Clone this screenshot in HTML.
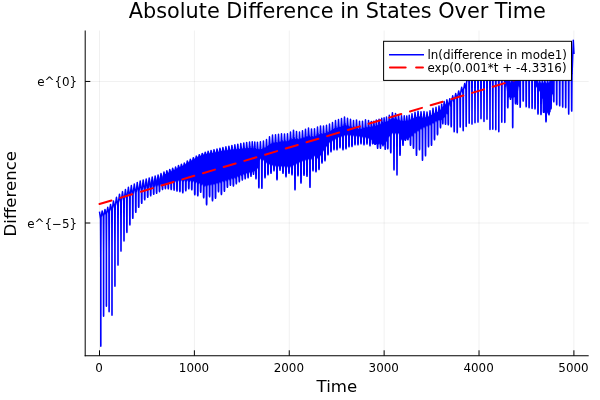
<!DOCTYPE html>
<html><head><meta charset="utf-8"><title>Absolute Difference in States Over Time</title>
<style>html,body{margin:0;padding:0;background:#fff;overflow:hidden}body{width:600px;height:400px}</style></head>
<body>
<svg width="600" height="400" viewBox="0 0 600 400" style="display:block" font-family='"DejaVu Sans", "Liberation Sans", sans-serif'>
<rect width="600" height="400" fill="#fff"/>
<g stroke="#000" stroke-opacity="0.1" stroke-width="0.6"><line x1="99.50" y1="30.5" x2="99.50" y2="355.4"/><line x1="194.38" y1="30.5" x2="194.38" y2="355.4"/><line x1="289.26" y1="30.5" x2="289.26" y2="355.4"/><line x1="384.14" y1="30.5" x2="384.14" y2="355.4"/><line x1="479.02" y1="30.5" x2="479.02" y2="355.4"/><line x1="573.90" y1="30.5" x2="573.90" y2="355.4"/><line x1="85.5" y1="81.45" x2="588.7" y2="81.45"/><line x1="85.5" y1="223.0" x2="588.7" y2="223.0"/></g>
<defs><clipPath id="pa"><rect x="85.5" y="30.5" width="503.20000000000005" height="324.9"/></clipPath></defs>
<g clip-path="url(#pa)"><polygon points="99.5,217.0 100.0,216.7 100.5,216.3 101.0,216.0 101.5,215.7 102.0,215.3 102.5,215.0 103.0,214.7 103.5,214.3 104.0,214.0 104.5,213.7 105.0,213.3 105.5,213.0 106.0,212.7 106.5,212.3 107.0,212.0 107.5,211.7 108.0,211.3 108.5,211.0 109.0,210.7 109.5,210.3 110.0,210.0 110.5,209.5 111.0,209.1 111.5,208.6 112.0,208.1 112.5,207.6 113.0,207.2 113.5,206.7 114.0,206.2 114.5,205.7 115.0,205.2 115.5,204.8 116.0,204.3 116.5,203.8 117.0,203.3 117.5,202.9 118.0,202.4 118.5,201.9 119.0,201.4 119.5,201.0 120.0,200.5 120.5,200.2 121.0,199.8 121.5,199.5 122.0,199.2 122.5,198.9 123.0,198.6 123.5,198.2 124.0,197.9 124.5,197.6 125.0,197.2 125.5,196.9 126.0,196.6 126.5,196.3 127.0,195.9 127.5,195.6 128.0,195.3 128.5,195.0 129.0,194.7 129.5,194.3 130.0,194.0 130.5,193.8 131.0,193.6 131.5,193.3 132.0,193.1 132.5,192.9 133.0,192.7 133.5,192.4 134.0,192.2 134.5,192.0 135.0,191.8 135.5,191.5 136.0,191.3 136.5,191.1 137.0,190.8 137.5,190.6 138.0,190.4 138.5,190.2 139.0,189.9 139.5,189.7 140.0,189.5 140.5,189.4 141.0,189.2 141.5,189.1 142.0,189.0 142.5,188.8 143.0,188.7 143.5,188.6 144.0,188.4 144.5,188.3 145.0,188.2 145.5,188.0 146.0,187.9 146.5,187.8 147.0,187.6 147.5,187.5 148.0,187.4 148.5,187.2 149.0,187.1 149.5,187.0 150.0,186.8 150.5,186.7 151.0,186.6 151.5,186.4 152.0,186.3 152.5,186.2 153.0,186.0 153.5,185.9 154.0,185.8 154.5,185.6 155.0,185.5 155.5,185.4 156.0,185.2 156.5,185.1 157.0,185.0 157.5,184.9 158.0,184.8 158.5,184.6 159.0,184.5 159.5,183.7 160.0,182.8 160.5,182.0 161.0,181.1 161.5,180.3 162.0,179.4 162.5,178.5 163.0,177.7 163.5,176.8 164.0,175.9 164.5,175.0 165.0,174.2 165.5,173.9 166.0,173.7 166.5,173.5 167.0,173.3 167.5,173.1 168.0,172.9 168.5,172.6 169.0,172.4 169.5,172.1 170.0,171.9 170.5,171.7 171.0,171.4 171.5,171.2 172.0,171.0 172.5,170.7 173.0,170.5 173.5,170.3 174.0,170.1 174.5,169.8 175.0,169.6 175.5,169.4 176.0,169.2 176.5,168.9 177.0,168.6 177.5,168.3 178.0,168.1 178.5,167.8 179.0,167.5 179.5,167.3 180.0,167.0 180.5,166.8 181.0,166.6 181.5,166.4 182.0,166.1 182.5,165.9 183.0,165.7 183.5,165.5 184.0,165.3 184.5,165.1 185.0,164.8 185.5,164.3 186.0,163.7 186.5,163.5 187.0,163.2 187.5,162.9 188.0,162.6 188.5,162.3 189.0,162.0 189.5,161.7 190.0,161.4 190.5,161.1 191.0,160.9 191.5,160.6 192.0,160.3 192.5,160.0 193.0,159.7 193.5,159.4 194.0,159.2 194.5,158.9 195.0,158.6 195.5,158.3 196.0,158.1 196.5,157.8 197.0,157.5 197.5,157.2 198.0,157.0 198.5,156.8 199.0,156.5 199.5,156.3 200.0,156.1 200.5,155.9 201.0,155.7 201.5,155.5 202.0,155.3 202.5,155.0 203.0,154.8 203.5,154.6 204.0,154.4 204.5,154.2 205.0,154.1 205.5,154.0 206.0,153.9 206.5,153.9 207.0,153.8 207.5,153.7 208.0,153.7 208.5,153.6 209.0,153.5 209.5,153.5 210.0,153.4 210.5,153.3 211.0,153.2 211.5,153.1 212.0,153.0 212.5,152.9 213.0,152.8 213.5,152.7 214.0,152.6 214.5,152.5 215.0,152.4 215.5,152.3 216.0,152.2 216.5,152.1 217.0,152.0 217.5,151.9 218.0,151.8 218.5,151.7 219.0,151.6 219.5,151.5 220.0,151.4 220.5,151.3 221.0,151.2 221.5,151.1 222.0,151.0 222.5,150.9 223.0,150.8 223.5,150.7 224.0,150.6 224.5,150.5 225.0,150.4 225.5,150.4 226.0,150.4 226.5,150.3 227.0,150.3 227.5,150.2 228.0,150.2 228.5,150.1 229.0,150.0 229.5,150.0 230.0,149.9 230.5,149.8 231.0,149.8 231.5,149.7 232.0,149.6 232.5,149.6 233.0,149.5 233.5,149.4 234.0,149.4 234.5,149.3 235.0,149.3 235.5,149.3 236.0,149.2 236.5,149.2 237.0,149.1 237.5,149.1 238.0,149.1 238.5,149.0 239.0,149.0 239.5,148.9 240.0,148.9 240.5,148.8 241.0,148.8 241.5,148.7 242.0,148.7 242.5,148.6 243.0,148.6 243.5,148.5 244.0,148.5 244.5,148.4 245.0,148.4 245.5,148.3 246.0,148.3 246.5,148.3 247.0,148.3 247.5,148.2 248.0,148.2 248.5,148.2 249.0,148.2 249.5,148.2 250.0,148.2 250.5,148.1 251.0,148.1 251.5,148.1 252.0,148.1 252.5,148.2 253.0,148.3 253.5,148.4 254.0,148.5 254.5,148.6 255.0,148.6 255.5,148.8 256.0,148.9 256.5,149.0 257.0,149.1 257.5,149.2 258.0,149.3 258.5,149.3 259.0,149.2 259.5,149.2 260.0,149.1 260.5,149.1 261.0,149.0 261.5,149.0 262.0,148.9 262.5,148.8 263.0,148.6 263.5,148.5 264.0,148.4 264.5,148.1 265.0,147.8 265.5,147.5 266.0,147.2 266.5,146.9 267.0,146.5 267.5,146.1 268.0,145.7 268.5,145.4 269.0,145.0 269.5,144.6 270.0,144.3 270.5,144.1 271.0,143.8 271.5,143.6 272.0,143.3 272.5,143.1 273.0,143.0 273.5,143.0 274.0,142.9 274.5,142.9 275.0,142.8 275.5,142.7 276.0,142.7 276.5,142.6 277.0,142.6 277.5,142.5 278.0,142.5 278.5,142.4 279.0,142.3 279.5,142.1 280.0,142.0 280.5,141.9 281.0,141.7 281.5,141.6 282.0,141.6 282.5,141.5 283.0,141.5 283.5,141.5 284.0,141.4 284.5,141.4 285.0,141.4 285.5,141.3 286.0,141.3 286.5,141.3 287.0,141.2 287.5,141.2 288.0,141.0 288.5,140.8 289.0,140.5 289.5,140.3 290.0,140.1 290.5,139.9 291.0,139.7 291.5,139.5 292.0,139.2 292.5,139.0 293.0,138.8 293.5,138.6 294.0,138.7 294.5,138.7 295.0,138.8 295.5,138.9 296.0,138.9 296.5,139.0 297.0,139.1 297.5,139.1 298.0,139.2 298.5,139.3 299.0,139.3 299.5,139.4 300.0,139.1 300.5,138.9 301.0,138.6 301.5,138.4 302.0,138.1 302.5,137.9 303.0,137.8 303.5,137.6 304.0,137.5 304.5,137.4 305.0,137.3 305.5,137.1 306.0,137.0 306.5,136.9 307.0,136.8 307.5,136.6 308.0,136.5 308.5,136.4 309.0,136.4 309.5,136.4 310.0,136.5 310.5,136.5 311.0,136.5 311.5,136.5 312.0,136.6 312.5,136.6 313.0,136.6 313.5,136.6 314.0,136.7 314.5,136.7 315.0,136.5 315.5,136.3 316.0,136.0 316.5,135.8 317.0,135.6 317.5,135.4 318.0,135.2 318.5,135.0 319.0,134.8 319.5,134.5 320.0,134.3 320.5,134.1 321.0,134.0 321.5,133.9 322.0,133.8 322.5,133.8 323.0,133.7 323.5,133.6 324.0,133.5 324.5,133.4 325.0,133.3 325.5,133.3 326.0,133.2 326.5,133.1 327.0,132.8 327.5,132.6 328.0,132.3 328.5,132.1 329.0,131.8 329.5,131.6 330.0,131.3 330.5,130.9 331.0,130.6 331.5,130.3 332.0,129.9 332.5,129.6 333.0,129.3 333.5,129.1 334.0,128.8 334.5,128.6 335.0,128.3 335.5,128.1 336.0,128.0 336.5,127.9 337.0,127.8 337.5,127.6 338.0,127.5 338.5,127.4 339.0,127.3 339.5,127.1 340.0,127.0 340.5,126.9 341.0,126.7 341.5,126.6 342.0,126.4 342.5,126.2 343.0,126.0 343.5,125.8 344.0,125.6 344.5,125.4 345.0,125.4 345.5,125.4 346.0,125.4 346.5,125.4 347.0,125.4 347.5,125.4 348.0,125.7 348.5,125.9 349.0,126.2 349.5,126.5 350.0,126.7 350.5,127.0 351.0,127.1 351.5,127.2 352.0,127.3 352.5,127.4 353.0,127.4 353.5,127.5 354.0,127.6 354.5,127.6 355.0,127.7 355.5,127.8 356.0,127.9 356.5,128.0 357.0,128.2 357.5,128.5 358.0,128.8 358.5,129.0 359.0,129.2 359.5,129.3 360.0,129.2 360.5,129.0 361.0,128.9 361.5,128.7 362.0,128.6 362.5,128.4 363.0,128.3 363.5,128.1 364.0,128.0 364.5,127.8 365.0,127.7 365.5,127.5 366.0,127.4 366.5,127.4 367.0,127.4 367.5,127.3 368.0,127.3 368.5,127.2 369.0,127.2 369.5,127.2 370.0,127.1 370.5,127.1 371.0,127.1 371.5,126.9 372.0,126.7 372.5,126.6 373.0,126.5 373.5,126.4 374.0,126.3 374.5,126.2 375.0,126.1 375.5,126.0 376.0,125.9 376.5,125.8 377.0,125.7 377.5,125.5 378.0,125.4 378.5,125.2 379.0,125.1 379.5,124.9 380.0,124.8 380.5,124.6 381.0,124.5 381.5,124.3 382.0,124.2 382.5,124.0 383.0,123.9 383.5,123.7 384.0,123.5 384.5,123.3 385.0,123.1 385.5,122.9 386.0,122.7 386.5,122.4 387.0,122.0 387.5,121.5 388.0,121.1 388.5,120.6 389.0,120.2 389.5,119.8 390.0,119.6 390.5,119.3 391.0,119.1 391.5,118.8 392.0,118.6 392.5,118.4 393.0,118.5 393.5,118.6 394.0,118.6 394.5,118.7 395.0,118.8 395.5,118.9 396.0,119.0 396.5,119.2 397.0,119.4 397.5,119.5 398.0,119.7 398.5,119.9 399.0,120.0 399.5,120.2 400.0,120.4 400.5,120.5 401.0,120.7 401.5,120.8 402.0,120.8 402.5,120.9 403.0,120.9 403.5,120.9 404.0,120.9 404.5,121.0 405.0,121.0 405.5,121.0 406.0,121.0 406.5,121.1 407.0,121.1 407.5,121.0 408.0,120.8 408.5,120.5 409.0,120.3 409.5,120.0 410.0,119.8 410.5,119.5 411.0,119.3 411.5,119.1 412.0,118.8 412.5,118.6 413.0,118.4 413.5,118.2 414.0,117.9 414.5,117.7 415.0,117.5 415.5,117.3 416.0,117.0 416.5,116.9 417.0,116.8 417.5,116.7 418.0,116.6 418.5,116.5 419.0,116.4 419.5,116.4 420.0,116.7 420.5,117.0 421.0,117.3 421.5,117.6 422.0,117.9 422.5,118.1 423.0,117.9 423.5,117.8 424.0,117.7 424.5,117.6 425.0,117.4 425.5,117.3 426.0,117.2 426.5,117.1 427.0,116.9 427.5,116.8 428.0,116.7 428.5,116.5 429.0,116.3 429.5,116.0 430.0,115.8 430.5,115.5 431.0,115.3 431.5,115.0 432.0,114.7 432.5,114.4 433.0,114.1 433.5,113.8 434.0,113.5 434.5,113.2 435.0,113.0 435.5,112.8 436.0,112.6 436.5,112.4 437.0,112.2 437.5,112.0 438.0,111.6 438.5,111.3 439.0,111.0 439.5,110.6 440.0,110.3 440.5,109.8 441.0,109.3 441.5,108.7 442.0,108.2 442.5,107.7 443.0,107.1 443.5,106.6 444.0,106.0 444.5,105.6 445.0,105.1 445.5,104.6 446.0,104.1 446.5,103.7 447.0,103.2 447.5,106.5 448.0,109.9 448.5,108.8 449.0,107.2 449.5,105.6 450.0,104.0 450.5,103.3 451.0,102.7 451.5,102.0 452.0,101.3 452.5,100.7 453.0,100.0 453.5,99.5 454.0,99.0 454.5,98.5 455.0,98.0 455.5,97.5 456.0,97.0 456.5,96.7 457.0,96.3 457.5,96.0 458.0,95.7 458.5,95.3 459.0,95.0 459.5,94.3 460.0,93.7 460.5,93.0 461.0,92.3 461.5,91.7 462.0,91.0 462.5,90.3 463.0,89.7 463.5,89.0 464.0,88.3 464.5,87.7 465.0,87.0 465.5,84.8 466.0,82.7 466.5,80.5 467.0,78.3 467.5,76.2 468.0,74.0 468.5,74.0 469.0,74.0 469.5,74.0 470.0,74.0 470.5,74.0 471.0,74.0 471.5,74.0 472.0,74.0 472.5,74.0 473.0,74.0 473.5,74.0 474.0,74.0 474.5,74.0 475.0,74.0 475.5,74.0 476.0,74.0 476.5,74.0 477.0,74.0 477.5,74.0 478.0,74.0 478.5,74.0 479.0,74.0 479.5,74.0 480.0,74.0 480.5,74.0 481.0,74.0 481.5,74.0 482.0,74.0 482.5,74.0 483.0,74.0 483.5,74.0 484.0,74.0 484.5,74.0 485.0,74.0 485.5,74.0 486.0,74.0 486.5,74.0 487.0,74.0 487.5,74.0 488.0,74.0 488.5,74.0 489.0,74.0 489.5,74.0 490.0,74.0 490.5,74.0 491.0,74.0 491.5,74.0 492.0,74.0 492.5,74.0 493.0,74.0 493.5,74.0 494.0,74.0 494.5,74.0 495.0,74.0 495.5,74.0 496.0,74.0 496.5,74.0 497.0,74.0 497.5,74.0 498.0,74.0 498.5,74.0 499.0,74.0 499.5,74.0 500.0,74.0 500.5,74.0 501.0,74.0 501.5,74.0 502.0,74.0 502.5,74.0 503.0,74.0 503.5,74.0 504.0,74.0 504.5,74.0 505.0,74.0 505.5,78.4 506.0,82.8 506.5,81.5 507.0,75.7 507.5,77.5 508.0,79.2 508.5,80.4 509.0,81.5 509.5,82.7 510.0,83.9 510.5,85.0 511.0,86.2 511.5,84.0 512.0,81.9 512.5,79.7 513.0,77.5 513.5,75.4 514.0,73.2 514.5,71.3 515.0,69.5 515.5,67.6 516.0,65.7 516.5,63.8 517.0,62.0 517.5,60.1 518.0,58.2 518.5,57.8 519.0,64.8 519.5,71.9 520.0,79.0 520.5,76.6 521.0,74.0 521.5,74.0 522.0,74.0 522.5,74.0 523.0,74.0 523.5,74.0 524.0,74.0 524.5,74.0 525.0,74.0 525.5,74.0 526.0,74.0 526.5,74.0 527.0,74.0 527.5,74.0 528.0,74.0 528.5,74.0 529.0,74.0 529.5,74.0 530.0,74.0 530.5,74.0 531.0,74.0 531.5,74.0 532.0,74.0 532.5,74.0 533.0,74.0 533.5,74.0 534.0,74.0 534.5,76.4 535.0,78.4 535.5,73.5 536.0,68.6 536.5,71.2 537.0,74.2 537.5,77.2 538.0,80.2 538.5,83.2 539.0,83.2 539.5,83.2 540.0,83.2 540.5,83.2 541.0,83.2 541.5,83.2 542.0,83.2 542.5,83.2 543.0,83.2 543.5,83.2 544.0,83.2 544.5,83.2 545.0,83.2 545.5,83.2 546.0,83.2 546.5,83.2 547.0,83.2 547.5,83.2 548.0,83.2 548.5,83.2 549.0,83.2 549.5,83.2 550.0,83.2 550.5,83.2 551.0,83.2 551.5,79.7 552.0,76.2 552.5,72.7 553.0,76.7 553.5,81.5 554.0,81.2 554.5,77.6 555.0,74.0 555.5,74.0 556.0,74.0 556.5,74.0 557.0,74.0 557.5,74.0 558.0,74.0 558.5,74.0 559.0,74.0 559.5,74.0 560.0,74.0 560.5,74.0 561.0,74.0 561.5,74.0 562.0,74.0 562.5,74.0 563.0,74.0 563.5,74.0 564.0,74.0 564.5,74.0 565.0,74.0 565.5,74.0 566.0,74.0 566.5,74.0 567.0,74.0 567.5,74.0 568.0,74.0 568.5,74.0 569.0,74.0 569.5,74.0 570.0,74.0 570.5,74.0 571.0,74.0 571.5,74.0 572.0,73.8 572.5,73.4 573.0,73.0 573.0,74.0 572.5,74.0 572.0,74.0 571.5,74.0 571.0,74.0 570.5,74.0 570.0,74.0 569.5,74.0 569.0,74.0 568.5,74.0 568.0,74.0 567.5,74.0 567.0,74.0 566.5,74.0 566.0,74.0 565.5,74.0 565.0,74.0 564.5,74.0 564.0,74.0 563.5,74.0 563.0,74.0 562.5,74.0 562.0,74.0 561.5,74.0 561.0,74.0 560.5,74.0 560.0,74.0 559.5,74.0 559.0,74.0 558.5,74.0 558.0,74.0 557.5,74.0 557.0,74.0 556.5,74.0 556.0,74.0 555.5,74.0 555.0,74.0 554.5,77.6 554.0,81.2 553.5,84.8 553.0,88.4 552.5,92.0 552.0,97.0 551.5,102.0 551.0,107.0 550.5,112.0 550.0,112.0 549.5,112.0 549.0,112.0 548.5,112.0 548.0,112.0 547.5,112.0 547.0,112.0 546.5,112.0 546.0,112.0 545.5,112.0 545.0,112.0 544.5,112.0 544.0,112.0 543.5,112.0 543.0,105.0 542.5,98.0 542.0,96.7 541.5,95.3 541.0,94.0 540.5,92.7 540.0,91.3 539.5,90.0 539.0,89.3 538.5,88.7 538.0,88.0 537.5,87.3 537.0,86.7 536.5,86.0 536.0,83.6 535.5,81.2 535.0,78.8 534.5,76.4 534.0,74.0 533.5,74.0 533.0,74.0 532.5,74.0 532.0,74.0 531.5,74.0 531.0,74.0 530.5,74.0 530.0,74.0 529.5,74.0 529.0,74.0 528.5,74.0 528.0,74.0 527.5,74.0 527.0,74.0 526.5,74.0 526.0,74.0 525.5,74.0 525.0,74.0 524.5,74.0 524.0,74.0 523.5,74.0 523.0,74.0 522.5,74.0 522.0,74.0 521.5,74.0 521.0,74.0 520.5,76.6 520.0,79.2 519.5,81.8 519.0,84.4 518.5,87.0 518.0,91.5 517.5,96.0 517.0,96.0 516.5,96.0 516.0,96.0 515.5,96.0 515.0,96.0 514.5,96.0 514.0,96.0 513.5,96.0 513.0,96.0 512.5,96.0 512.0,96.0 511.5,96.0 511.0,96.0 510.5,96.0 510.0,96.0 509.5,96.0 509.0,96.0 508.5,96.0 508.0,96.0 507.5,96.0 507.0,91.6 506.5,87.2 506.0,82.8 505.5,78.4 505.0,74.0 504.5,74.0 504.0,74.0 503.5,74.0 503.0,74.0 502.5,74.0 502.0,74.0 501.5,74.0 501.0,74.0 500.5,74.0 500.0,74.0 499.5,74.0 499.0,74.0 498.5,74.0 498.0,74.0 497.5,74.0 497.0,74.0 496.5,74.0 496.0,74.0 495.5,74.0 495.0,74.0 494.5,74.0 494.0,74.0 493.5,74.0 493.0,74.0 492.5,74.0 492.0,74.0 491.5,74.0 491.0,74.0 490.5,74.0 490.0,74.0 489.5,74.0 489.0,74.0 488.5,74.0 488.0,74.0 487.5,74.0 487.0,74.0 486.5,74.0 486.0,74.0 485.5,74.0 485.0,74.0 484.5,74.0 484.0,74.0 483.5,74.0 483.0,74.0 482.5,74.0 482.0,74.0 481.5,74.0 481.0,74.0 480.5,74.0 480.0,74.0 479.5,74.0 479.0,74.0 478.5,74.0 478.0,74.0 477.5,74.0 477.0,74.0 476.5,74.0 476.0,74.0 475.5,74.0 475.0,74.0 474.5,74.0 474.0,74.0 473.5,74.0 473.0,74.0 472.5,74.0 472.0,74.0 471.5,74.0 471.0,74.0 470.5,74.0 470.0,74.0 469.5,74.0 469.0,74.0 468.5,74.0 468.0,74.0 467.5,76.2 467.0,78.3 466.5,80.5 466.0,82.7 465.5,84.8 465.0,87.0 464.5,87.7 464.0,88.3 463.5,89.0 463.0,89.7 462.5,90.3 462.0,91.0 461.5,91.7 461.0,92.3 460.5,93.0 460.0,93.7 459.5,94.3 459.0,95.0 458.5,95.3 458.0,95.7 457.5,96.0 457.0,96.3 456.5,96.7 456.0,97.0 455.5,97.5 455.0,98.0 454.5,98.5 454.0,99.0 453.5,99.5 453.0,100.0 452.5,100.7 452.0,101.3 451.5,102.0 451.0,102.7 450.5,103.3 450.0,104.0 449.5,105.6 449.0,107.2 448.5,108.8 448.0,110.4 447.5,112.0 447.0,112.7 446.5,113.3 446.0,114.0 445.5,114.7 445.0,115.3 444.5,116.0 444.0,116.4 443.5,116.8 443.0,117.2 442.5,117.7 442.0,118.1 441.5,118.5 441.0,118.7 440.5,118.8 440.0,119.0 439.5,119.2 439.0,119.3 438.5,119.5 438.0,119.7 437.5,119.9 437.0,120.1 436.5,120.4 436.0,120.6 435.5,120.8 435.0,121.0 434.5,121.4 434.0,121.7 433.5,122.1 433.0,122.4 432.5,122.8 432.0,123.1 431.5,123.5 431.0,123.7 430.5,123.8 430.0,124.0 429.5,124.2 429.0,124.3 428.5,124.5 428.0,124.7 427.5,124.8 427.0,125.0 426.5,125.2 426.0,125.5 425.5,125.8 425.0,126.0 424.5,126.2 424.0,126.5 423.5,126.8 423.0,127.0 422.5,127.2 422.0,127.5 421.5,127.8 421.0,128.0 420.5,128.3 420.0,128.7 419.5,129.0 419.0,129.3 418.5,129.7 418.0,130.0 417.5,130.3 417.0,130.7 416.5,131.0 416.0,131.3 415.5,131.7 415.0,132.0 414.5,132.5 414.0,133.0 413.5,133.5 413.0,134.0 412.5,134.5 412.0,135.0 411.5,135.2 411.0,135.5 410.5,135.8 410.0,136.0 409.5,136.2 409.0,136.5 408.5,136.8 408.0,137.0 407.5,137.2 407.0,137.5 406.5,137.8 406.0,138.0 405.5,138.2 405.0,138.5 404.5,138.8 404.0,139.0 403.5,139.2 403.0,139.5 402.5,139.8 402.0,140.0 401.5,138.8 401.0,137.5 400.5,136.2 400.0,135.0 399.5,133.8 399.0,132.5 398.5,132.5 398.0,132.5 397.5,132.5 397.0,132.5 396.5,132.5 396.0,132.5 395.5,132.5 395.0,132.5 394.5,132.5 394.0,132.5 393.5,132.5 393.0,132.5 392.5,132.5 392.0,132.5 391.5,133.1 391.0,133.7 390.5,134.2 390.0,134.8 389.5,135.4 389.0,136.0 388.5,136.9 388.0,137.8 387.5,138.6 387.0,139.5 386.5,140.4 386.0,141.2 385.5,142.1 385.0,143.0 384.5,143.0 384.0,143.0 383.5,143.0 383.0,143.0 382.5,143.0 382.0,143.0 381.5,143.0 381.0,143.0 380.5,143.0 380.0,143.0 379.5,143.0 379.0,143.0 378.5,143.0 378.0,143.0 377.5,143.0 377.0,143.0 376.5,143.0 376.0,143.0 375.5,143.0 375.0,143.0 374.5,143.0 374.0,143.0 373.5,142.2 373.0,141.3 372.5,140.5 372.0,139.7 371.5,138.8 371.0,138.0 370.5,137.9 370.0,137.8 369.5,137.6 369.0,137.5 368.5,137.4 368.0,137.2 367.5,137.1 367.0,137.0 366.5,136.9 366.0,136.8 365.5,136.6 365.0,136.5 364.5,136.4 364.0,136.3 363.5,136.2 363.0,136.2 362.5,136.1 362.0,136.0 361.5,135.9 361.0,135.8 360.5,135.8 360.0,135.7 359.5,135.6 359.0,135.5 358.5,135.4 358.0,135.3 357.5,135.2 357.0,135.2 356.5,135.1 356.0,135.0 355.5,134.9 355.0,134.9 354.5,134.8 354.0,134.8 353.5,134.7 353.0,134.7 352.5,134.6 352.0,134.6 351.5,134.5 351.0,134.4 350.5,134.4 350.0,134.3 349.5,134.3 349.0,134.2 348.5,134.2 348.0,134.1 347.5,134.1 347.0,134.0 346.5,134.1 346.0,134.3 345.5,134.4 345.0,134.6 344.5,134.7 344.0,134.8 343.5,135.0 343.0,135.1 342.5,135.2 342.0,135.4 341.5,135.5 341.0,135.7 340.5,135.8 340.0,135.9 339.5,136.1 339.0,136.2 338.5,136.4 338.0,136.5 337.5,136.8 337.0,137.1 336.5,137.4 336.0,137.7 335.5,138.0 335.0,138.3 334.5,138.6 334.0,138.9 333.5,139.2 333.0,139.6 332.5,139.9 332.0,140.2 331.5,140.5 331.0,140.8 330.5,141.1 330.0,141.4 329.5,141.7 329.0,142.0 328.5,142.7 328.0,143.4 327.5,144.1 327.0,144.8 326.5,145.5 326.0,146.3 325.5,147.0 325.0,147.7 324.5,148.4 324.0,149.1 323.5,149.8 323.0,150.6 322.5,151.4 322.0,152.2 321.5,152.9 321.0,153.7 320.5,154.5 320.0,154.9 319.5,155.4 319.0,155.8 318.5,156.3 318.0,156.8 317.5,157.2 317.0,156.8 316.5,156.5 316.0,156.1 315.5,155.7 315.0,155.4 314.5,155.0 314.0,155.5 313.5,156.0 313.0,156.5 312.5,157.0 312.0,157.5 311.5,158.0 311.0,158.0 310.5,158.1 310.0,158.1 309.5,158.1 309.0,158.2 308.5,158.2 308.0,158.4 307.5,158.5 307.0,158.7 306.5,158.9 306.0,159.0 305.5,159.2 305.0,159.4 304.5,159.5 304.0,159.7 303.5,159.8 303.0,160.0 302.5,160.2 302.0,160.3 301.5,160.5 301.0,160.7 300.5,160.8 300.0,161.0 299.5,161.2 299.0,161.5 298.5,161.8 298.0,162.0 297.5,162.2 297.0,162.5 296.5,162.8 296.0,163.0 295.5,163.2 295.0,163.5 294.5,163.8 294.0,164.0 293.5,164.2 293.0,164.5 292.5,164.8 292.0,165.0 291.5,165.2 291.0,165.5 290.5,165.8 290.0,166.0 289.5,166.0 289.0,165.9 288.5,165.9 288.0,165.9 287.5,165.8 287.0,165.8 286.5,165.8 286.0,165.7 285.5,165.7 285.0,165.7 284.5,165.6 284.0,165.6 283.5,165.6 283.0,165.5 282.5,165.5 282.0,165.5 281.5,165.4 281.0,165.4 280.5,165.4 280.0,165.3 279.5,165.3 279.0,165.3 278.5,165.2 278.0,165.2 277.5,165.2 277.0,165.1 276.5,165.1 276.0,165.1 275.5,165.0 275.0,165.0 274.5,164.9 274.0,164.7 273.5,164.6 273.0,164.4 272.5,164.3 272.0,164.1 271.5,164.0 271.0,163.9 270.5,163.7 270.0,163.6 269.5,163.4 269.0,163.3 268.5,163.1 268.0,163.0 267.5,162.6 267.0,162.2 266.5,161.8 266.0,161.3 265.5,160.9 265.0,160.5 264.5,160.1 264.0,159.7 263.5,159.2 263.0,158.8 262.5,158.4 262.0,158.0 261.5,158.0 261.0,158.0 260.5,158.0 260.0,158.0 259.5,159.8 259.0,161.7 258.5,163.5 258.0,165.3 257.5,167.2 257.0,169.0 256.5,169.2 256.0,169.3 255.5,169.5 255.0,169.7 254.5,169.8 254.0,170.0 253.5,170.2 253.0,170.3 252.5,170.5 252.0,170.7 251.5,170.8 251.0,171.0 250.5,171.2 250.0,171.3 249.5,171.5 249.0,171.7 248.5,171.8 248.0,172.0 247.5,172.2 247.0,172.3 246.5,172.5 246.0,172.7 245.5,172.8 245.0,173.0 244.5,173.2 244.0,173.4 243.5,173.6 243.0,173.8 242.5,174.0 242.0,174.2 241.5,174.4 241.0,174.6 240.5,174.8 240.0,175.0 239.5,175.2 239.0,175.4 238.5,175.6 238.0,175.8 237.5,176.0 237.0,176.2 236.5,176.4 236.0,176.6 235.5,176.8 235.0,177.0 234.5,177.2 234.0,177.3 233.5,177.4 233.0,177.6 232.5,177.8 232.0,177.9 231.5,178.1 231.0,178.2 230.5,178.3 230.0,178.5 229.5,178.7 229.0,178.8 228.5,178.9 228.0,179.1 227.5,179.2 227.0,179.4 226.5,179.6 226.0,179.7 225.5,179.8 225.0,180.0 224.5,180.2 224.0,180.3 223.5,180.4 223.0,180.6 222.5,180.8 222.0,180.9 221.5,181.1 221.0,181.2 220.5,181.3 220.0,181.5 219.5,181.7 219.0,181.8 218.5,181.9 218.0,182.1 217.5,182.2 217.0,182.4 216.5,182.6 216.0,182.7 215.5,182.8 215.0,183.0 214.5,183.1 214.0,183.2 213.5,183.3 213.0,183.4 212.5,183.5 212.0,183.6 211.5,183.7 211.0,183.8 210.5,183.9 210.0,184.0 209.5,184.1 209.0,184.2 208.5,184.3 208.0,184.4 207.5,184.5 207.0,184.6 206.5,184.7 206.0,184.8 205.5,184.9 205.0,185.0 204.5,184.8 204.0,184.6 203.5,184.4 203.0,184.2 202.5,184.0 202.0,183.8 201.5,183.6 201.0,183.4 200.5,183.2 200.0,183.0 199.5,182.8 199.0,182.6 198.5,182.4 198.0,182.2 197.5,182.0 197.0,181.8 196.5,181.6 196.0,181.4 195.5,181.2 195.0,181.0 194.5,180.9 194.0,180.8 193.5,180.7 193.0,180.6 192.5,180.5 192.0,180.4 191.5,180.3 191.0,180.2 190.5,180.1 190.0,180.0 189.5,180.0 189.0,179.9 188.5,179.9 188.0,179.9 187.5,179.9 187.0,179.8 186.5,179.8 186.0,179.8 185.5,179.8 185.0,179.8 184.5,179.7 184.0,179.7 183.5,179.7 183.0,179.7 182.5,179.6 182.0,179.6 181.5,179.6 181.0,179.6 180.5,179.5 180.0,179.5 179.5,179.6 179.0,179.7 178.5,179.8 178.0,180.0 177.5,180.1 177.0,180.2 176.5,180.3 176.0,180.4 175.5,180.6 175.0,180.7 174.5,180.8 174.0,180.9 173.5,181.0 173.0,181.1 172.5,181.2 172.0,181.4 171.5,181.5 171.0,181.6 170.5,181.7 170.0,181.8 169.5,181.9 169.0,182.1 168.5,182.2 168.0,182.3 167.5,182.4 167.0,182.5 166.5,182.7 166.0,182.8 165.5,182.9 165.0,183.0 164.5,183.1 164.0,183.2 163.5,183.4 163.0,183.5 162.5,183.6 162.0,183.8 161.5,183.9 161.0,184.0 160.5,184.1 160.0,184.2 159.5,184.4 159.0,184.5 158.5,184.6 158.0,184.8 157.5,184.9 157.0,185.0 156.5,185.1 156.0,185.2 155.5,185.4 155.0,185.5 154.5,185.6 154.0,185.8 153.5,185.9 153.0,186.0 152.5,186.2 152.0,186.3 151.5,186.4 151.0,186.6 150.5,186.7 150.0,186.8 149.5,187.0 149.0,187.1 148.5,187.2 148.0,187.4 147.5,187.5 147.0,187.6 146.5,187.8 146.0,187.9 145.5,188.0 145.0,188.2 144.5,188.3 144.0,188.4 143.5,188.6 143.0,188.7 142.5,188.8 142.0,189.0 141.5,189.1 141.0,189.2 140.5,189.4 140.0,189.5 139.5,189.7 139.0,189.9 138.5,190.2 138.0,190.4 137.5,190.6 137.0,190.8 136.5,191.1 136.0,191.3 135.5,191.5 135.0,191.8 134.5,192.0 134.0,192.2 133.5,192.4 133.0,192.7 132.5,192.9 132.0,193.1 131.5,193.3 131.0,193.6 130.5,193.8 130.0,194.0 129.5,194.3 129.0,194.7 128.5,195.0 128.0,195.3 127.5,195.6 127.0,195.9 126.5,196.3 126.0,196.6 125.5,196.9 125.0,197.2 124.5,197.6 124.0,197.9 123.5,198.2 123.0,198.6 122.5,198.9 122.0,199.2 121.5,199.5 121.0,199.8 120.5,200.2 120.0,200.5 119.5,201.0 119.0,201.4 118.5,201.9 118.0,202.4 117.5,202.9 117.0,203.3 116.5,203.8 116.0,204.3 115.5,204.8 115.0,205.2 114.5,205.7 114.0,206.2 113.5,206.7 113.0,207.2 112.5,207.6 112.0,208.1 111.5,208.6 111.0,209.1 110.5,209.5 110.0,210.0 109.5,210.3 109.0,210.7 108.5,211.0 108.0,211.3 107.5,211.7 107.0,212.0 106.5,212.3 106.0,212.7 105.5,213.0 105.0,213.3 104.5,213.7 104.0,214.0 103.5,214.3 103.0,214.7 102.5,215.0 102.0,215.3 101.5,215.7 101.0,216.0 100.5,216.3 100.0,216.7 99.5,217.0" fill="#0000ff" stroke="none"/><path d="M99.50,211.70 99.76,213.52 100.07,215.72 100.33,217.54 100.54,219.00 100.61,231.00 100.73,257.00 100.74,345.10 100.80,346.30 100.87,345.10 100.87,255.20 101.01,229.20 101.08,217.20 101.30,215.94 101.58,214.37 101.92,212.47 102.20,210.90 102.48,212.47 102.82,214.37 103.10,215.94 103.32,217.20 103.39,229.20 103.53,255.20 103.53,315.10 103.60,316.30 103.67,315.10 103.67,253.60 103.81,227.60 103.88,215.60 104.10,214.36 104.38,212.81 104.72,210.95 105.00,209.40 105.28,210.88 105.62,212.66 105.90,214.15 106.12,215.33 106.19,227.33 106.33,253.33 106.33,305.10 106.40,306.30 106.46,305.10 106.47,251.51 106.60,225.51 106.67,213.51 106.89,212.27 107.16,210.72 107.48,208.86 107.75,207.31 108.02,208.86 108.34,210.72 108.61,212.26 108.83,213.50 108.90,225.50 109.03,251.50 109.04,310.60 109.10,311.80 109.17,310.60 109.18,249.48 109.31,223.48 109.39,211.48 109.62,210.06 109.91,208.30 110.26,206.18 110.55,204.41 110.84,206.18 111.19,208.30 111.48,210.06 111.71,211.48 111.79,223.48 111.92,249.48 111.93,314.10 112.00,315.30 112.07,314.10 112.08,246.70 112.22,220.70 112.30,208.70 112.53,207.17 112.83,205.25 113.18,202.96 113.47,201.04 113.77,202.96 114.12,205.25 114.42,207.17 114.66,208.70 114.73,220.70 114.87,246.70 114.88,285.10 114.95,286.30 115.02,285.10 115.03,243.85 115.17,217.85 115.25,205.85 115.50,204.14 115.80,202.01 116.17,199.45 116.47,197.32 116.78,199.45 117.15,202.01 117.45,204.14 117.69,205.85 117.78,217.85 117.92,243.85 117.93,263.90 118.00,265.10 118.07,263.90 118.08,240.97 118.22,214.97 118.30,202.97 118.54,201.22 118.84,199.04 119.20,196.41 119.50,194.22 119.80,196.41 120.16,199.04 120.46,201.22 120.70,202.97 120.78,214.97 120.92,240.97 120.93,249.90 121.00,251.10 121.07,249.90 121.08,238.88 121.22,212.88 121.30,200.88 121.54,199.02 121.84,196.71 122.20,193.94 122.50,191.62 122.80,193.94 123.16,196.71 123.46,199.02 123.70,200.88 123.78,212.88 123.92,238.88 123.93,239.80 124.00,241.00 124.07,239.80 124.08,236.96 124.21,210.96 124.29,198.96 124.52,197.08 124.81,194.72 125.16,191.90 125.45,189.55 125.74,191.90 126.09,194.72 126.38,197.08 126.61,198.96 126.69,210.96 126.79,231.30 126.90,232.50 127.00,231.30 127.12,209.04 127.20,197.04 127.44,195.10 127.74,192.67 128.10,189.76 128.40,187.33 128.70,189.76 129.06,192.67 129.36,195.10 129.60,197.04 129.68,209.04 129.76,223.80 129.90,225.00 130.03,223.80 130.11,207.39 130.19,195.39 130.42,193.42 130.71,190.96 131.06,188.01 131.35,185.55 131.64,188.01 131.99,190.96 132.28,193.42 132.51,195.39 132.59,207.39 132.64,217.10 132.80,218.30 132.96,217.10 133.02,206.06 133.10,194.06 133.34,192.05 133.64,189.53 134.00,186.51 134.30,183.99 134.60,186.51 134.96,189.53 135.26,192.05 135.50,194.06 135.58,206.06 135.61,211.10 135.80,212.30 135.98,211.10 136.01,204.74 136.09,192.74 136.32,190.68 136.61,188.11 136.96,185.02 137.25,182.44 137.54,185.02 137.89,188.11 138.18,190.68 138.41,192.74 138.49,204.74 138.49,206.10 138.70,207.30 138.91,206.10 138.92,203.45 139.00,191.45 139.24,189.36 139.54,186.73 139.90,183.60 140.20,180.99 140.50,183.59 140.86,186.72 141.16,189.36 141.40,191.45 141.48,202.10 141.70,203.30 141.92,202.10 142.00,190.65 142.27,188.52 142.53,185.59 142.88,182.59 143.20,179.90 143.52,182.39 143.87,185.40 144.13,188.52 144.40,190.65 144.48,198.60 144.70,199.80 144.92,198.60 145.00,189.85 145.30,187.72 145.53,184.51 145.86,181.69 146.20,178.97 146.54,181.31 146.87,184.14 147.10,187.72 147.40,189.85 147.48,196.10 147.70,197.30 147.92,196.10 148.00,189.05 148.33,186.91 148.52,183.35 148.84,180.70 149.20,177.95 149.56,180.14 149.88,182.80 150.07,186.91 150.40,189.05 150.48,194.60 150.70,195.80 150.92,194.60 151.00,188.25 151.36,186.13 151.51,182.34 151.83,179.89 152.20,177.06 152.57,179.16 152.89,181.61 153.04,186.13 153.40,188.25 153.48,193.10 153.70,194.30 153.91,193.10 153.99,187.46 154.36,185.36 154.48,181.36 154.77,179.11 155.15,176.11 155.53,178.20 155.82,180.45 155.94,185.36 156.31,187.46 156.39,192.10 156.60,193.30 156.81,192.10 156.89,186.74 157.29,184.64 157.37,180.07 157.66,178.01 158.05,174.98 158.44,176.93 158.73,178.99 158.81,184.64 159.21,186.74 159.29,190.50 159.50,191.70 159.72,190.50 159.80,186.00 160.24,183.92 160.29,178.50 160.57,176.65 161.00,173.60 161.43,175.39 161.71,177.24 161.76,183.92 162.20,186.00 162.28,188.40 162.50,189.60 162.71,188.40 162.79,185.26 163.24,183.24 163.26,176.65 163.52,175.05 163.95,172.02 164.38,173.61 164.64,175.21 164.66,183.24 165.11,185.26 165.19,187.50 165.40,188.70 165.61,187.50 165.69,184.57 166.15,182.57 166.15,175.17 166.42,173.67 166.85,170.73 167.29,172.17 167.55,173.67 167.55,182.57 168.01,184.57 168.09,187.60 168.30,188.80 168.51,187.60 168.59,183.89 169.05,181.89 169.05,173.82 169.31,172.32 169.75,169.48 170.19,170.82 170.45,172.32 170.45,181.89 170.91,183.89 170.99,188.30 171.20,189.50 171.41,188.30 171.49,183.22 171.95,181.22 171.95,172.47 172.21,170.97 172.65,168.22 173.08,169.47 173.35,170.97 173.35,181.22 173.81,183.22 173.89,189.00 174.10,190.20 174.31,189.00 174.39,182.54 174.85,180.54 174.85,171.16 175.12,169.66 175.55,167.01 175.99,168.16 176.25,169.66 176.25,180.54 176.71,182.54 176.79,189.80 177.00,191.00 177.21,189.80 177.29,181.86 177.75,179.86 177.75,169.60 178.01,168.10 178.45,165.55 178.88,166.60 179.15,168.10 179.15,179.86 179.61,181.86 179.69,190.50 179.90,191.70 180.11,190.50 180.19,181.57 180.65,179.57 180.65,168.23 180.92,166.73 181.35,164.27 181.79,165.23 182.05,166.73 182.05,179.57 182.51,181.57 182.59,191.60 182.80,192.80 183.02,191.60 183.10,181.72 183.58,179.72 183.58,166.98 183.85,165.48 184.30,163.10 184.75,163.98 185.02,165.48 185.02,179.72 185.50,181.72 185.58,189.60 185.80,190.80 186.02,189.60 186.10,181.87 186.58,179.87 186.58,164.79 186.85,163.29 187.30,160.98 187.75,161.79 188.02,163.29 188.02,179.87 188.50,181.87 188.58,187.60 188.80,188.80 189.02,187.60 189.10,182.06 189.58,180.06 189.58,163.06 189.85,161.56 190.30,159.33 190.75,160.06 191.02,161.56 191.02,180.06 191.50,182.06 191.58,188.60 191.80,189.80 192.02,188.60 192.10,182.66 192.58,180.66 192.58,161.35 192.85,159.85 193.30,157.71 193.75,158.35 194.02,159.85 194.02,180.66 194.50,182.66 194.58,193.60 194.80,194.80 195.02,193.60 195.10,183.52 195.58,181.52 195.58,159.69 195.85,158.19 196.30,156.11 196.75,156.69 197.02,158.19 197.02,181.52 197.50,183.52 197.58,194.60 197.80,195.80 198.01,194.60 198.09,184.70 198.55,182.70 198.55,158.24 198.81,156.74 199.25,154.68 199.69,155.24 199.95,156.74 199.95,182.70 200.41,184.70 200.49,191.10 200.70,192.30 200.92,191.10 201.00,185.88 201.48,183.88 201.48,156.98 201.75,155.48 202.20,153.45 202.65,153.98 202.92,155.48 202.92,183.88 203.40,185.88 203.48,196.60 203.70,197.80 203.91,196.60 203.99,186.97 204.45,184.97 204.45,155.85 204.71,154.35 205.15,152.32 205.58,152.85 205.85,154.35 205.85,184.97 206.31,186.97 206.39,198.97 206.41,203.60 206.60,204.80 206.79,203.60 206.82,198.38 206.90,186.38 207.38,184.38 207.38,155.45 207.65,153.95 208.10,151.33 208.55,152.45 208.82,153.95 208.82,184.38 209.30,186.38 209.38,195.60 209.60,196.80 209.81,195.60 209.89,185.79 210.35,183.79 210.35,154.99 210.62,153.49 211.05,150.44 211.49,151.99 211.75,153.49 211.75,183.79 212.21,185.79 212.29,197.79 212.30,199.60 212.50,200.80 212.71,199.60 212.72,197.20 212.80,185.20 213.28,183.20 213.28,154.39 213.55,152.89 214.00,149.70 214.45,151.39 214.72,152.89 214.72,183.20 215.20,185.20 215.28,197.10 215.50,198.30 215.72,197.10 215.72,196.40 215.80,184.40 216.28,182.40 216.28,153.78 216.55,152.28 217.00,148.95 217.45,150.78 217.72,152.28 217.72,182.40 218.20,184.40 218.28,190.60 218.50,191.80 218.71,190.60 218.79,183.52 219.25,181.52 219.25,153.18 219.51,151.68 219.95,148.21 220.38,150.18 220.65,151.68 220.65,181.52 221.11,183.52 221.19,193.30 221.40,194.50 221.62,193.30 221.70,182.63 222.18,180.63 222.18,152.61 222.45,151.11 222.90,147.50 223.35,149.61 223.62,151.11 223.62,180.63 224.10,182.63 224.18,190.10 224.40,191.30 224.62,190.10 224.70,181.73 225.18,179.73 225.18,152.16 225.45,150.66 225.90,146.85 226.35,149.16 226.62,150.66 226.62,179.73 227.10,181.73 227.18,186.10 227.40,187.30 227.62,186.10 227.70,180.83 228.18,178.83 228.18,151.84 228.45,150.34 228.90,146.17 229.35,148.84 229.62,150.34 229.62,178.83 230.10,180.83 230.18,184.10 230.40,185.30 230.62,184.10 230.70,179.93 231.18,177.93 231.18,151.45 231.45,149.95 231.90,145.42 232.35,148.45 232.62,149.95 232.62,177.93 233.10,179.93 233.18,184.90 233.40,186.10 233.61,184.90 233.69,179.04 234.15,177.04 234.15,151.11 234.42,149.61 234.85,144.73 235.29,148.11 235.55,149.61 235.55,177.04 236.01,179.04 236.09,182.60 236.30,183.80 236.52,182.60 236.60,177.88 237.08,175.88 237.08,150.88 237.35,149.38 237.80,144.14 238.25,147.88 238.52,149.38 238.52,175.88 239.00,177.88 239.08,180.60 239.30,181.80 239.52,180.60 239.60,176.68 240.08,174.68 240.08,150.62 240.35,149.12 240.80,143.54 241.25,147.62 241.52,149.12 241.52,174.68 242.00,176.68 242.08,178.90 242.30,180.10 242.51,178.90 242.59,175.50 243.05,173.50 243.05,150.32 243.31,148.82 243.75,142.95 244.19,147.32 244.45,148.82 244.45,173.50 244.91,175.50 244.99,177.60 245.20,178.80 245.41,177.60 245.49,174.45 245.95,172.45 245.95,150.08 246.21,148.58 246.65,142.41 247.08,147.08 247.35,148.58 247.35,172.45 247.81,174.45 247.89,176.60 248.10,177.80 248.31,176.60 248.39,173.48 248.85,171.48 248.85,149.98 249.12,148.48 249.55,142.03 249.99,146.98 250.25,148.48 250.25,171.48 250.71,173.48 250.79,175.10 251.00,176.30 251.18,175.10 251.25,172.58 251.65,170.58 251.65,149.95 251.88,148.45 252.25,141.72 252.62,146.95 252.85,148.45 252.85,170.58 253.25,172.58 253.32,173.10 253.50,174.30 253.68,173.10 253.75,171.75 254.15,169.75 254.15,150.40 254.38,148.90 254.75,141.93 255.12,147.40 255.35,148.90 255.35,169.75 255.75,171.75 255.82,177.60 256.00,178.80 256.21,177.60 256.29,169.35 256.75,167.35 256.75,151.01 257.01,149.51 257.45,142.16 257.88,148.01 258.15,149.51 258.15,167.35 258.61,169.35 258.69,181.35 258.71,186.60 258.90,187.80 259.04,186.60 259.12,172.00 259.20,160.00 259.68,158.00 259.68,151.13 259.95,149.63 260.40,141.86 260.85,148.13 261.12,149.63 261.12,158.00 261.60,160.00 261.68,172.00 261.76,187.10 261.90,188.30 262.05,187.10 262.13,173.21 262.21,161.21 262.71,159.21 262.71,150.45 262.98,148.95 263.45,140.95 263.92,147.45 264.19,148.95 264.19,159.21 264.69,161.21 264.77,173.21 264.79,176.60 265.00,177.80 265.22,176.60 265.22,175.75 265.30,163.75 265.78,161.75 265.78,149.01 266.05,147.51 266.50,139.51 266.95,146.01 267.22,147.51 267.22,161.75 267.70,163.75 267.78,173.60 268.00,174.80 268.22,173.60 268.30,165.43 268.78,163.43 268.78,146.34 269.05,144.84 269.50,136.84 269.95,143.34 270.22,144.84 270.22,163.43 270.70,165.43 270.78,172.10 271.00,173.30 271.22,172.10 271.30,166.29 271.78,164.29 271.78,144.55 272.05,143.05 272.50,135.05 272.95,141.55 273.22,143.05 273.22,164.29 273.70,166.29 273.78,169.60 274.00,170.80 274.22,169.60 274.30,167.03 274.78,165.03 274.78,144.17 275.05,142.67 275.50,134.67 275.95,141.17 276.22,142.67 276.22,165.03 276.70,167.03 276.78,178.60 277.00,179.80 277.22,178.60 277.30,167.23 277.78,165.23 277.78,143.87 278.05,142.37 278.50,134.37 278.95,140.87 279.22,142.37 279.22,165.23 279.70,167.23 279.78,169.10 280.00,170.30 280.22,169.10 280.30,167.43 280.78,165.43 280.78,143.19 281.05,141.69 281.50,133.69 281.95,140.19 282.22,141.69 282.22,165.43 282.70,167.43 282.78,172.10 283.00,173.30 283.22,172.10 283.30,167.63 283.78,165.63 283.78,143.49 284.05,141.99 284.50,133.99 284.95,140.49 285.22,141.99 285.22,165.63 285.70,167.63 285.78,175.60 286.00,176.80 286.22,175.60 286.30,167.83 286.78,165.83 286.78,143.30 287.05,141.80 287.50,133.80 287.95,140.30 288.22,141.80 288.22,165.83 288.70,167.83 288.78,172.10 289.00,173.30 289.22,172.10 289.30,167.75 289.78,165.75 289.78,141.47 290.05,139.97 290.50,131.97 290.95,138.47 291.22,139.97 291.22,165.75 291.70,167.75 291.78,173.60 292.00,174.80 292.22,173.60 292.30,166.25 292.78,164.25 292.78,139.65 293.05,138.15 293.50,130.15 293.95,136.65 294.22,138.15 294.22,164.25 294.70,166.25 294.78,178.25 294.84,188.60 295.00,189.80 295.16,188.60 295.22,176.75 295.30,164.75 295.78,162.75 295.78,140.90 296.05,139.40 296.50,131.40 296.95,137.90 297.22,139.40 297.22,162.75 297.70,164.75 297.78,174.60 298.00,175.80 298.22,174.60 298.30,163.25 298.78,161.25 298.78,141.48 299.05,139.98 299.50,131.98 299.95,138.48 300.22,139.98 300.22,161.25 300.70,163.25 300.78,175.25 300.82,181.90 301.00,183.10 301.18,181.90 301.22,174.18 301.30,162.18 301.78,160.18 301.78,140.31 302.05,138.81 302.50,130.81 302.95,137.31 303.22,138.81 303.22,160.18 303.70,162.18 303.78,174.10 304.00,175.30 304.22,174.10 304.22,173.19 304.30,161.19 304.78,159.19 304.78,138.63 305.05,137.13 305.50,129.13 305.95,135.63 306.22,137.13 306.22,159.19 306.70,161.19 306.78,173.19 306.79,175.10 307.00,176.30 307.20,175.10 307.22,172.20 307.30,160.20 307.78,158.20 307.78,137.60 308.05,136.10 308.50,128.10 308.95,134.60 309.22,136.10 309.22,158.20 309.70,160.20 309.78,172.20 309.85,186.10 310.00,187.30 310.14,186.10 310.22,172.00 310.30,160.00 310.78,158.00 310.78,138.38 311.05,136.88 311.50,128.88 311.95,135.38 312.22,136.88 312.22,158.00 312.70,160.00 312.78,169.60 313.00,170.80 313.22,169.60 313.22,169.00 313.30,157.00 313.78,155.00 313.78,138.31 314.05,136.81 314.50,128.81 314.95,135.31 315.22,136.81 315.22,155.00 315.70,157.00 315.78,169.00 315.79,170.60 316.00,171.80 316.22,170.60 316.30,159.20 316.78,157.20 316.78,136.44 317.05,134.94 317.50,126.94 317.95,133.44 318.22,134.94 318.22,157.20 318.70,159.20 318.78,168.30 319.00,169.50 319.22,168.30 319.30,156.50 319.78,154.50 319.78,135.38 320.05,133.88 320.50,125.88 320.95,132.38 321.22,133.88 321.22,154.50 321.70,156.50 321.78,161.90 322.00,163.10 322.22,161.90 322.30,151.80 322.78,149.80 322.78,135.51 323.05,134.01 323.50,126.01 323.95,132.51 324.22,134.01 324.22,149.80 324.70,151.80 324.78,159.60 325.00,160.80 325.22,159.60 325.22,159.55 325.30,147.55 325.78,145.55 325.78,134.72 326.05,133.22 326.50,125.22 326.95,131.72 327.22,133.22 327.22,145.55 327.70,147.55 327.78,153.60 328.00,154.80 328.22,153.60 328.30,143.69 328.78,141.69 328.78,133.56 329.05,132.06 329.50,124.06 329.95,130.56 330.22,132.06 330.22,141.69 330.70,143.69 330.78,150.60 331.00,151.80 331.22,150.60 331.30,141.86 331.78,139.86 331.78,132.04 332.05,130.54 332.50,122.54 332.95,129.04 333.22,130.54 333.22,139.86 333.70,141.86 333.78,148.60 334.00,149.80 334.22,148.60 334.30,140.03 334.78,138.03 334.78,129.99 335.05,128.49 335.50,120.49 335.95,126.99 336.22,128.49 336.22,138.03 336.70,140.03 336.78,148.60 337.00,149.80 337.22,148.60 337.30,138.36 337.78,136.36 337.78,129.12 338.05,127.62 338.50,119.62 338.95,126.12 339.22,127.62 339.22,136.36 339.70,138.36 339.78,146.60 340.00,147.80 340.22,146.60 340.30,137.53 340.78,135.53 340.78,128.01 341.05,126.51 341.50,118.51 341.95,125.01 342.22,126.51 342.22,135.53 342.70,137.53 342.78,148.60 343.00,149.80 343.22,148.60 343.30,136.69 343.78,134.69 343.78,126.44 344.05,124.94 344.50,116.94 344.95,123.44 345.22,124.94 345.22,134.69 345.70,136.69 345.78,147.60 346.00,148.80 346.22,147.60 346.30,136.06 346.78,134.06 346.78,127.78 347.05,126.28 347.50,118.28 347.95,124.78 348.22,126.28 348.22,134.06 348.70,136.06 348.78,145.60 349.00,146.80 349.22,145.60 349.30,136.39 349.78,134.39 349.78,128.76 350.05,127.26 350.50,119.26 350.95,125.76 351.22,127.26 351.22,134.39 351.70,136.39 351.78,145.30 352.00,146.50 352.22,145.30 352.30,136.72 352.78,134.72 352.78,129.99 353.05,128.49 353.50,120.49 353.95,126.99 354.22,128.49 354.22,134.72 354.70,136.72 354.78,143.60 355.00,144.80 355.22,143.60 355.30,137.08 355.78,135.08 355.78,129.38 356.05,127.88 356.50,119.88 356.95,126.38 357.22,127.88 357.22,135.08 357.70,137.08 357.78,143.60 358.00,144.80 358.22,143.60 358.30,137.58 358.78,135.58 358.78,130.75 359.05,129.25 359.50,121.25 359.95,127.75 360.22,129.25 360.22,135.58 360.70,137.58 360.78,142.60 361.00,143.80 361.22,142.60 361.30,138.08 361.78,136.08 361.78,130.68 362.05,129.18 362.50,121.18 362.95,127.68 363.22,129.18 363.22,136.08 363.70,138.08 363.78,143.60 364.00,144.80 364.22,143.60 364.30,138.62 364.78,136.62 364.78,129.08 365.05,127.58 365.50,119.74 365.95,126.08 366.22,127.58 366.22,136.62 366.70,138.62 366.78,142.90 367.00,144.10 367.22,142.90 367.30,139.38 367.78,137.38 367.78,128.76 368.05,127.26 368.50,120.41 368.95,125.76 369.22,127.26 369.22,137.38 369.70,139.38 369.78,144.60 370.00,145.80 370.19,144.60 370.26,140.50 370.68,138.50 370.68,128.83 370.91,127.33 371.30,121.40 371.69,125.83 371.92,127.33 371.92,138.50 372.34,140.50 372.41,142.60 372.60,143.80 372.78,143.80 372.85,143.80 373.25,142.75 373.25,128.49 373.48,126.99 373.85,121.29 374.23,125.49 374.45,126.99 374.45,142.75 374.85,144.30 374.92,144.30 375.10,144.30 375.28,144.30 375.35,144.30 375.75,143.00 375.75,127.27 375.98,125.77 376.35,120.07 376.73,124.27 376.95,125.77 376.95,143.00 377.35,145.00 377.42,147.10 377.60,148.30 377.81,147.10 377.89,145.00 378.35,143.00 378.35,126.39 378.62,124.89 379.05,119.19 379.49,123.39 379.75,124.89 379.75,143.00 380.21,145.00 380.29,147.10 380.50,148.30 380.68,147.10 380.75,145.00 381.15,143.00 381.15,125.46 381.38,123.96 381.75,118.26 382.12,122.46 382.35,123.96 382.35,143.00 382.75,145.00 382.82,145.00 383.00,145.80 383.16,145.00 383.22,145.00 383.57,143.00 383.57,124.97 383.77,123.47 384.10,117.77 384.43,121.97 384.63,123.47 384.63,143.00 384.98,145.00 385.04,148.10 385.20,149.30 385.39,148.10 385.46,142.38 385.88,140.38 385.88,124.20 386.11,122.70 386.50,117.00 386.89,121.20 387.12,122.70 387.12,140.38 387.54,142.38 387.61,147.60 387.80,148.80 388.02,147.60 388.10,137.65 388.58,135.65 388.58,122.42 388.85,120.92 389.30,115.22 389.75,119.42 390.02,120.92 390.02,135.65 390.50,137.65 390.58,149.65 390.59,151.60 390.80,152.80 391.01,151.60 391.03,146.50 391.12,134.50 391.63,132.50 391.63,119.90 391.92,118.40 392.40,112.70 392.88,116.90 393.17,118.40 393.17,132.50 393.68,134.50 393.77,146.50 393.89,168.80 394.00,170.00 394.10,168.80 394.22,146.50 394.30,134.50 394.78,132.50 394.78,120.61 395.05,119.11 395.50,113.41 395.95,117.61 396.22,119.11 396.22,132.50 396.70,134.50 396.78,146.50 396.92,172.50 396.93,173.80 397.00,175.00 397.07,173.80 397.08,172.50 397.22,146.50 397.30,134.50 397.78,132.50 397.78,122.10 398.05,120.60 398.50,114.90 398.95,119.10 399.22,120.60 399.22,132.50 399.70,134.50 399.78,146.50 399.82,154.10 400.00,155.30 400.21,154.10 400.22,152.75 400.30,140.75 400.78,138.75 400.78,122.86 401.05,121.36 401.50,115.66 401.95,119.86 402.22,121.36 402.22,138.75 402.70,140.75 402.78,144.10 403.00,145.30 403.18,144.10 403.25,140.88 403.65,138.88 403.65,123.04 403.88,121.54 404.25,115.84 404.62,120.04 404.85,121.54 404.85,138.88 405.25,140.30 405.32,140.30 405.50,140.30 405.68,139.62 405.75,139.62 406.15,137.62 406.15,123.10 406.38,121.60 406.75,115.90 407.12,120.10 407.35,121.60 407.35,137.62 407.75,139.62 407.82,139.62 408.00,139.80 408.18,138.60 408.25,138.38 408.65,136.38 408.65,122.33 408.88,120.83 409.25,115.13 409.62,119.33 409.85,120.83 409.85,136.38 410.25,138.38 410.32,144.10 410.50,145.30 410.72,144.10 410.80,137.00 411.28,135.00 411.28,121.05 411.55,119.55 412.00,113.85 412.45,118.05 412.72,119.55 412.72,135.00 413.20,137.00 413.28,147.10 413.50,148.30 413.71,147.10 413.72,146.00 413.80,134.00 414.28,132.00 414.28,119.50 414.55,118.00 415.00,112.30 415.45,116.50 415.72,118.00 415.72,132.00 416.20,134.00 416.28,146.00 416.32,154.10 416.50,155.30 416.67,154.10 416.72,144.00 416.80,132.00 417.28,130.00 417.28,118.40 417.55,116.90 418.00,111.20 418.45,115.40 418.72,116.90 418.72,130.00 419.20,132.00 419.28,144.00 419.30,148.60 419.50,149.80 419.68,148.60 419.72,142.00 419.80,130.00 420.28,128.00 420.28,118.95 420.55,117.45 421.00,111.75 421.45,115.95 421.72,117.45 421.72,128.00 422.20,130.00 422.28,142.00 422.37,159.10 422.50,160.30 422.62,159.10 422.72,140.50 422.80,128.50 423.28,126.50 423.28,118.74 423.55,117.24 424.00,111.54 424.45,115.74 424.72,117.24 424.72,126.50 425.20,128.50 425.28,140.50 425.36,154.60 425.50,155.80 425.64,154.60 425.72,139.00 425.80,127.00 426.28,125.00 426.28,119.28 426.55,117.78 427.00,112.08 427.45,116.28 427.72,117.78 427.72,125.00 428.20,127.00 428.28,139.00 428.32,145.60 428.50,146.80 428.68,145.60 428.72,138.00 428.80,126.00 429.28,124.00 429.28,118.06 429.55,116.56 430.00,110.86 430.45,115.06 430.72,116.56 430.72,124.00 431.20,126.00 431.28,138.00 431.31,144.10 431.50,145.30 431.68,144.10 431.72,136.43 431.80,124.43 432.28,122.43 432.28,115.47 432.55,113.97 433.00,108.27 433.45,112.47 433.72,113.97 433.72,122.43 434.20,124.43 434.28,136.43 434.29,138.60 434.50,139.80 434.70,138.60 434.72,134.57 434.80,122.57 435.28,120.57 435.28,114.56 435.55,113.06 436.00,107.36 436.45,111.56 436.72,113.06 436.72,120.57 437.20,122.57 437.28,133.60 437.50,134.80 437.72,133.60 437.72,133.33 437.80,121.33 438.28,119.33 438.28,113.10 438.55,111.60 439.00,105.90 439.45,110.10 439.72,111.60 439.72,119.33 440.20,121.33 440.28,126.60 440.50,127.80 440.67,126.60 440.73,120.38 441.10,118.38 441.10,110.81 441.31,109.31 441.65,104.13 442.00,107.81 442.20,109.31 442.20,118.38 442.57,120.38 442.63,122.60 442.80,123.80 443.00,122.60 443.07,118.29 443.50,116.29 443.50,107.40 443.75,105.90 444.15,101.51 444.56,104.40 444.80,105.90 444.80,116.29 445.23,118.29 445.30,123.10 445.50,124.30 445.71,123.10 445.78,114.80 446.23,112.80 446.23,104.89 446.48,103.39 446.90,99.86 447.32,101.89 447.57,103.39 447.57,112.80 448.02,114.80 448.09,123.60 448.30,124.80 448.49,123.60 448.51,118.80 448.59,106.80 448.89,105.06 449.09,103.13 449.41,100.99 449.75,98.71 450.09,100.52 450.41,102.66 450.61,105.06 450.91,106.80 450.99,118.80 451.02,125.60 451.20,126.80 451.36,125.60 451.42,114.40 451.50,102.40 451.74,101.07 452.04,99.42 452.40,97.43 452.70,95.77 453.00,97.43 453.36,99.42 453.66,101.07 453.90,102.40 453.98,114.40 454.07,130.60 454.20,131.80 454.32,130.60 454.42,111.91 454.50,99.91 454.74,98.65 455.04,97.08 455.40,95.19 455.70,93.61 456.00,95.03 456.36,96.74 456.66,98.16 456.90,99.30 456.98,111.30 457.09,131.60 457.20,132.80 457.30,131.60 457.42,109.27 457.50,97.27 457.74,96.01 458.04,94.44 458.40,92.55 458.70,90.97 459.00,92.53 459.36,94.40 459.66,95.95 459.90,97.20 459.98,109.20 460.07,125.90 460.20,127.10 460.31,125.90 460.42,105.58 460.50,93.58 460.74,92.32 461.04,90.75 461.40,88.86 461.70,87.28 462.00,88.81 462.36,90.65 462.66,92.18 462.90,93.40 462.98,105.40 463.11,129.60 463.20,130.80 463.27,129.60 463.28,127.87 463.42,101.87 463.50,89.87 463.74,88.61 464.04,87.04 464.40,85.15 464.70,83.57 465.00,85.03 465.36,86.78 465.66,88.23 465.90,89.40 465.98,101.40 466.11,125.30 466.20,126.50 466.27,125.30 466.28,120.75 466.42,94.75 466.50,82.75 466.74,81.49 467.04,79.92 467.40,78.03 467.70,76.45 468.00,77.65 468.36,79.09 468.66,80.29 468.90,81.25 468.98,93.25 469.12,119.25 469.13,122.10 469.20,123.30 469.27,122.10 469.27,114.00 469.41,88.00 469.48,76.00 469.70,74.70 469.98,73.07 470.32,71.12 470.60,69.50 470.88,71.12 471.22,73.07 471.50,74.70 471.72,76.00 471.79,88.00 471.93,114.00 471.93,122.90 472.00,124.10 472.07,122.90 472.08,114.00 472.22,88.00 472.30,76.00 472.54,73.54 472.84,70.47 473.20,66.78 473.50,63.70 473.80,66.78 474.16,70.47 474.46,73.54 474.70,76.00 474.78,88.00 474.92,114.00 474.93,121.60 475.00,122.80 475.07,121.60 475.08,114.00 475.22,88.00 475.30,76.00 475.54,72.45 475.84,68.02 476.20,62.69 476.50,58.26 476.80,62.69 477.16,68.02 477.46,72.45 477.70,76.00 477.78,88.00 477.92,114.00 477.93,120.90 478.00,122.10 478.07,120.90 478.08,114.00 478.22,88.00 478.30,76.00 478.54,71.92 478.84,66.81 479.20,60.69 479.50,55.59 479.80,60.69 480.16,66.81 480.46,71.92 480.70,76.00 480.78,88.00 480.92,114.00 480.93,117.60 481.00,118.80 481.07,117.60 481.08,114.00 481.22,88.00 481.30,76.00 481.54,71.38 481.84,65.62 482.20,58.69 482.50,52.92 482.80,58.69 483.16,65.62 483.46,71.38 483.70,76.00 483.78,88.00 483.92,114.00 483.93,120.30 484.00,121.50 484.07,120.30 484.08,114.00 484.22,88.00 484.30,76.00 484.54,70.96 484.84,64.65 485.20,57.09 485.50,50.78 485.80,57.09 486.16,64.65 486.46,70.96 486.70,76.00 486.78,88.00 486.92,114.00 486.93,118.10 487.00,119.30 487.07,118.10 487.08,114.00 487.22,88.00 487.30,76.00 487.54,71.06 487.84,64.88 488.20,57.46 488.50,51.28 488.80,57.46 489.16,64.88 489.46,71.06 489.70,76.00 489.78,88.00 489.92,114.00 489.93,128.30 490.00,129.50 490.07,128.30 490.07,114.00 490.21,88.00 490.28,76.00 490.50,71.15 490.78,65.09 491.12,57.83 491.40,51.77 491.68,57.83 492.02,65.09 492.30,71.15 492.52,76.00 492.59,88.00 492.73,114.00 492.73,128.10 492.80,129.30 492.87,128.10 492.88,114.00 493.02,88.00 493.10,76.00 493.34,71.25 493.64,65.31 494.00,58.19 494.30,52.25 494.60,58.19 494.96,65.31 495.26,71.25 495.50,76.00 495.58,88.00 495.72,114.00 495.73,128.60 495.80,129.80 495.87,128.60 495.88,114.00 496.02,88.00 496.10,76.00 496.34,71.43 496.64,65.71 497.00,58.85 497.30,53.13 497.60,58.85 497.96,65.71 498.26,71.43 498.50,76.00 498.58,88.00 498.72,114.00 498.73,130.60 498.80,131.80 498.87,130.60 498.88,114.00 499.02,88.00 499.10,76.00 499.34,72.28 499.64,67.64 500.00,62.06 500.30,57.41 500.60,62.06 500.96,67.64 501.26,72.28 501.50,76.00 501.58,88.00 501.72,114.00 501.73,121.10 501.80,122.30 501.87,121.10 501.88,114.00 502.02,88.00 502.10,76.00 502.34,73.14 502.64,69.57 503.00,65.28 503.30,61.70 503.60,65.28 503.96,69.57 504.26,73.14 504.50,76.00 504.58,88.00 504.72,114.00 504.73,121.30 504.80,122.50 504.90,121.30 505.02,99.44 505.10,87.44 505.50,84.97 505.60,76.76 505.90,74.03 506.30,70.75 506.70,73.06 507.00,75.78 507.10,84.97 507.50,87.44 507.58,99.44 507.62,106.60 507.80,107.80 508.00,106.60 508.07,98.00 508.50,96.00 508.50,83.68 508.75,82.18 509.15,79.38 509.56,80.68 509.80,82.18 509.80,96.00 510.23,98.00 510.30,98.10 510.50,99.30 510.66,98.10 510.72,98.00 511.07,96.00 511.07,85.40 511.27,83.90 511.60,81.10 511.93,82.40 512.13,83.90 512.13,96.00 512.48,98.00 512.54,110.00 512.60,126.60 512.70,127.80 512.82,126.60 512.91,110.00 512.98,98.00 513.43,96.00 513.43,74.62 513.68,73.12 514.10,70.32 514.52,71.62 514.77,73.12 514.77,96.00 515.22,98.00 515.29,102.60 515.50,103.80 515.63,102.60 515.68,98.00 515.97,96.00 515.97,66.00 516.13,64.50 516.40,61.70 516.67,63.00 516.83,64.50 516.83,96.00 517.12,98.00 517.17,103.10 517.30,104.30 517.49,103.10 517.51,99.70 517.59,87.70 518.02,85.13 518.06,61.05 518.33,58.51 518.75,55.04 519.17,57.20 519.44,59.74 519.48,85.13 519.91,87.70 519.99,99.70 520.02,106.10 520.20,107.30 520.32,106.10 520.42,88.00 520.50,76.00 520.74,71.29 521.04,65.41 521.40,58.35 521.70,52.46 522.00,58.35 522.36,65.41 522.66,71.29 522.90,76.00 522.98,88.00 523.04,99.90 523.20,101.10 523.36,99.90 523.42,88.00 523.50,76.00 523.74,70.77 524.04,64.23 524.40,56.38 524.70,49.84 525.00,56.38 525.36,64.23 525.66,70.77 525.90,76.00 525.98,88.00 526.07,105.60 526.20,106.80 526.32,105.60 526.41,88.00 526.49,76.00 526.72,70.83 527.01,64.36 527.36,56.61 527.65,50.14 527.94,56.61 528.29,64.36 528.58,70.83 528.81,76.00 528.89,88.00 528.98,106.60 529.10,107.80 529.22,106.60 529.32,88.00 529.40,76.00 529.64,71.34 529.94,65.53 530.30,58.54 530.60,52.73 530.90,58.54 531.26,65.53 531.56,71.34 531.80,76.00 531.88,88.00 531.98,107.30 532.10,108.50 532.21,107.30 532.31,88.00 532.39,76.00 532.62,71.86 532.91,66.69 533.26,60.48 533.55,55.31 533.84,60.48 534.19,66.69 534.48,71.86 534.71,76.00 534.79,88.00 534.89,107.80 535.00,109.00 535.18,107.80 535.22,100.00 535.30,88.00 535.78,86.00 535.78,73.00 536.05,71.50 536.50,68.70 536.95,70.00 537.22,71.50 537.22,86.00 537.70,88.00 537.78,100.00 537.85,112.90 538.00,114.10 538.17,112.90 538.22,104.00 538.30,92.00 538.78,90.00 538.78,85.00 539.05,83.50 539.50,80.70 539.95,82.00 540.22,83.50 540.22,90.00 540.70,92.00 540.78,104.00 540.83,113.40 541.00,114.60 541.17,113.40 541.18,111.33 541.25,99.33 541.65,97.33 541.65,85.00 541.88,83.50 542.25,80.70 542.62,82.00 542.85,83.50 542.85,97.33 543.25,99.33 543.32,111.10 543.50,112.30 543.68,112.30 543.75,112.30 544.15,112.00 544.15,85.00 544.38,83.50 544.75,80.70 545.12,82.00 545.35,83.50 545.35,112.00 545.75,114.00 545.82,120.60 546.00,121.80 546.22,120.60 546.30,114.00 546.78,112.00 546.78,85.00 547.05,83.50 547.50,80.70 547.95,82.00 548.22,83.50 548.22,112.00 548.70,114.00 548.78,114.00 549.00,114.80 549.15,114.00 549.20,114.00 549.52,112.00 549.52,85.00 549.70,83.50 550.00,80.70 550.30,82.00 550.48,83.50 550.48,108.80 550.80,108.80 550.85,108.80 551.00,108.80 551.20,107.60 551.21,107.00 551.28,95.00 551.73,93.00 551.73,75.20 551.98,73.70 552.40,70.90 552.82,72.20 553.07,73.70 553.07,93.00 553.52,95.00 553.59,100.60 553.80,101.80 553.95,100.60 554.01,88.00 554.09,76.00 554.32,71.74 554.61,66.42 554.96,60.03 555.25,54.70 555.54,60.03 555.89,66.42 556.18,71.74 556.41,76.00 556.49,88.00 556.57,103.60 556.70,104.80 556.84,103.60 556.92,88.00 557.00,76.00 557.24,70.72 557.54,64.12 557.90,56.20 558.20,49.60 558.50,56.20 558.86,64.12 559.16,70.72 559.40,76.00 559.48,88.00 559.57,104.60 559.70,105.80 559.83,104.60 559.92,88.00 560.00,76.00 560.24,70.42 560.54,63.44 560.90,55.07 561.20,48.10 561.50,55.07 561.86,63.44 562.16,70.42 562.40,76.00 562.48,88.00 562.58,105.90 562.70,107.10 562.82,105.90 562.92,88.00 563.00,76.00 563.24,70.12 563.54,62.77 563.90,53.95 564.20,46.60 564.50,53.95 564.86,62.77 565.16,70.12 565.40,76.00 565.48,88.00 565.58,106.60 565.70,107.80 565.82,106.60 565.92,88.00 566.00,76.00 566.24,69.82 566.54,62.09 566.90,52.82 567.20,45.10 567.50,52.82 567.86,62.09 568.16,69.82 568.40,76.00 568.48,88.00 568.61,112.90 568.70,114.10 568.79,112.90 568.92,88.00 569.00,76.00 569.24,69.37 569.54,61.07 569.90,51.12 570.20,42.83 570.50,51.12 570.86,61.07 571.16,69.37 571.40,76.00 571.48,88.00 571.60,109.90 571.70,111.10 571.81,109.90 571.93,88.00 572.02,76.00 572.28,68.84 572.60,59.89 572.98,49.15 573.30,40.20 574.00,54.00" fill="none" stroke="#0000ff" stroke-width="1.5" stroke-linejoin="round" stroke-linecap="butt"/>
<line x1="99.50" y1="204.08" x2="573.90" y2="62.53" stroke="#ff0000" stroke-width="2.0" stroke-linecap="round" stroke-dasharray="12.5 9.1"/></g>
<g stroke="#000" stroke-width="1" fill="none"><line x1="84.7" y1="355.75" x2="588.7" y2="355.75"/><line x1="85.2" y1="30.5" x2="85.2" y2="356.25"/>
<line x1="99.50" y1="355.75" x2="99.50" y2="350.3"/>
<line x1="194.38" y1="355.75" x2="194.38" y2="350.3"/>
<line x1="289.26" y1="355.75" x2="289.26" y2="350.3"/>
<line x1="384.14" y1="355.75" x2="384.14" y2="350.3"/>
<line x1="479.02" y1="355.75" x2="479.02" y2="350.3"/>
<line x1="573.90" y1="355.75" x2="573.90" y2="350.3"/>
<line x1="85.2" y1="81.45" x2="90.3" y2="81.45"/>
<line x1="85.2" y1="223.0" x2="90.3" y2="223.0"/>
</g>
<g font-size="11.9" fill="#000" text-anchor="middle">
<text x="99.10" y="372.0">0</text>
<text x="193.98" y="372.0">1000</text>
<text x="288.86" y="372.0">2000</text>
<text x="383.74" y="372.0">3000</text>
<text x="478.62" y="372.0">4000</text>
<text x="573.50" y="372.0">5000</text>
</g>
<g font-size="11.9" fill="#000" text-anchor="end">
<text x="77.2" y="86.05">e^{0}</text>
<text x="77.2" y="227.60">e^{−5}</text>
</g>
<text x="336.9" y="391.7" font-size="16.6" text-anchor="middle">Time</text>
<text transform="translate(15.6,193.7) rotate(-90)" font-size="16.6" text-anchor="middle">Difference</text>
<text x="337.3" y="18.0" font-size="20.8" text-anchor="middle">Absolute Difference in States Over Time</text>
<rect x="383.6" y="41.3" width="187.9" height="39.1" fill="#fff" stroke="#000" stroke-width="1"/>
<line x1="389" y1="54.65" x2="424" y2="54.65" stroke="#0000ff" stroke-width="1.5"/>
<line x1="390" y1="67.5" x2="422.9" y2="67.5" stroke="#ff0000" stroke-width="2.2" stroke-linecap="round" stroke-dasharray="15.6 10.6"/>
<g font-size="11.9" fill="#000"><text x="427.5" y="58.9">ln(difference in mode1)</text><text x="427.5" y="71.8">exp(0.001*t + -4.3316)</text></g>
</svg>
</body></html>
